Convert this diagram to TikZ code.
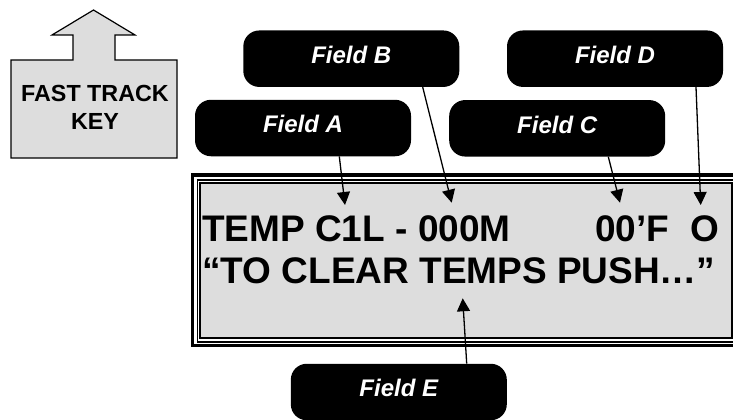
\documentclass[tikz,border=0pt]{standalone}
\usepackage{fontspec}
\setmainfont{Liberation Sans}
\usetikzlibrary{arrows.meta}
\definecolor{panelgray}{RGB}{221,221,221}
\tikzset{
  callout/.style={fill=black, rounded corners=16pt, minimum width=216pt, minimum height=56.5pt,
    inner sep=0pt, text=white, text depth=7.5pt,
    font=\fontsize{24}{28}\selectfont\bfseries\itshape},
  lcd/.style={anchor=base west, inner sep=0pt, font=\fontsize{37}{44}\selectfont\bfseries},
  arr/.style={line width=1.3pt, -{Triangle[length=13pt,width=13pt]}},
  keyshape/.style={fill=panelgray, draw=black, line width=1.2pt, line join=miter},
}
\begin{document}
\begin{tikzpicture}[x=1pt,y=-1pt]
\useasboundingbox (0,0) rectangle (733,420);
\begin{scope}
\clip (0,0) rectangle (733,420);
% Fast track key
\draw[keyshape] (11,60) -- (73,60) -- (73,35) -- (52,35) -- (93.5,10) -- (135,35) -- (115,35) -- (115,60)
  -- (177,60) -- (177,158) -- (11,158) -- cycle;
\node[align=center, inner sep=0pt, font=\fontsize{23.3}{28.3}\selectfont\bfseries] (fastkey) at (95,107.5) {FAST TRACK\\KEY};
% display panel
\draw[line width=3.2pt] (192.6,175) rectangle (742,345.5);
\draw[line width=1.6pt] (197.3,179.8) rectangle (737,342.2);
\draw[line width=2.2pt, fill=panelgray] (200.2,182.8) rectangle (731.6,338);
\node[lcd] (l1a) at (202,241) {TEMP C1L - 000M};
\node[lcd] (l1b) at (595,241) {00’F};
\node[lcd] (l1c) at (690.3,241) {O};
\node[lcd] (l2) at (202,283.5) {“TO CLEAR TEMPS PUSH…”};
% callouts
\node[callout] (fa) at (303,128) {Field A};
\node[callout] (fb) at (351.3,58.7) {Field B};
\node[callout] (fc) at (557.2,128.3) {Field C};
\node[callout] (fd) at (615,58.7) {Field D};
\node[callout] (fe) at (398.8,392) {Field E};
% arrow tips
\coordinate (tA) at (345,205);
\coordinate (tB) at (451.7,202.7);
\coordinate (tC) at (620,202.7);
\coordinate (tD) at (700.7,205);
\coordinate (tE) at (462.7,298.3);
\draw[arr] ([xshift=36.3pt]fa.south) -- (tA);
\draw[arr] ([xshift=71.4pt]fb.south) -- (tB);
\draw[arr] ([xshift=51.1pt]fc.south) -- (tC);
\draw[arr] ([xshift=81pt]fd.south) -- (tD);
\draw[arr] ([xshift=67.9pt]fe.north) -- (tE);
\end{scope}
\end{tikzpicture}
\end{document}
